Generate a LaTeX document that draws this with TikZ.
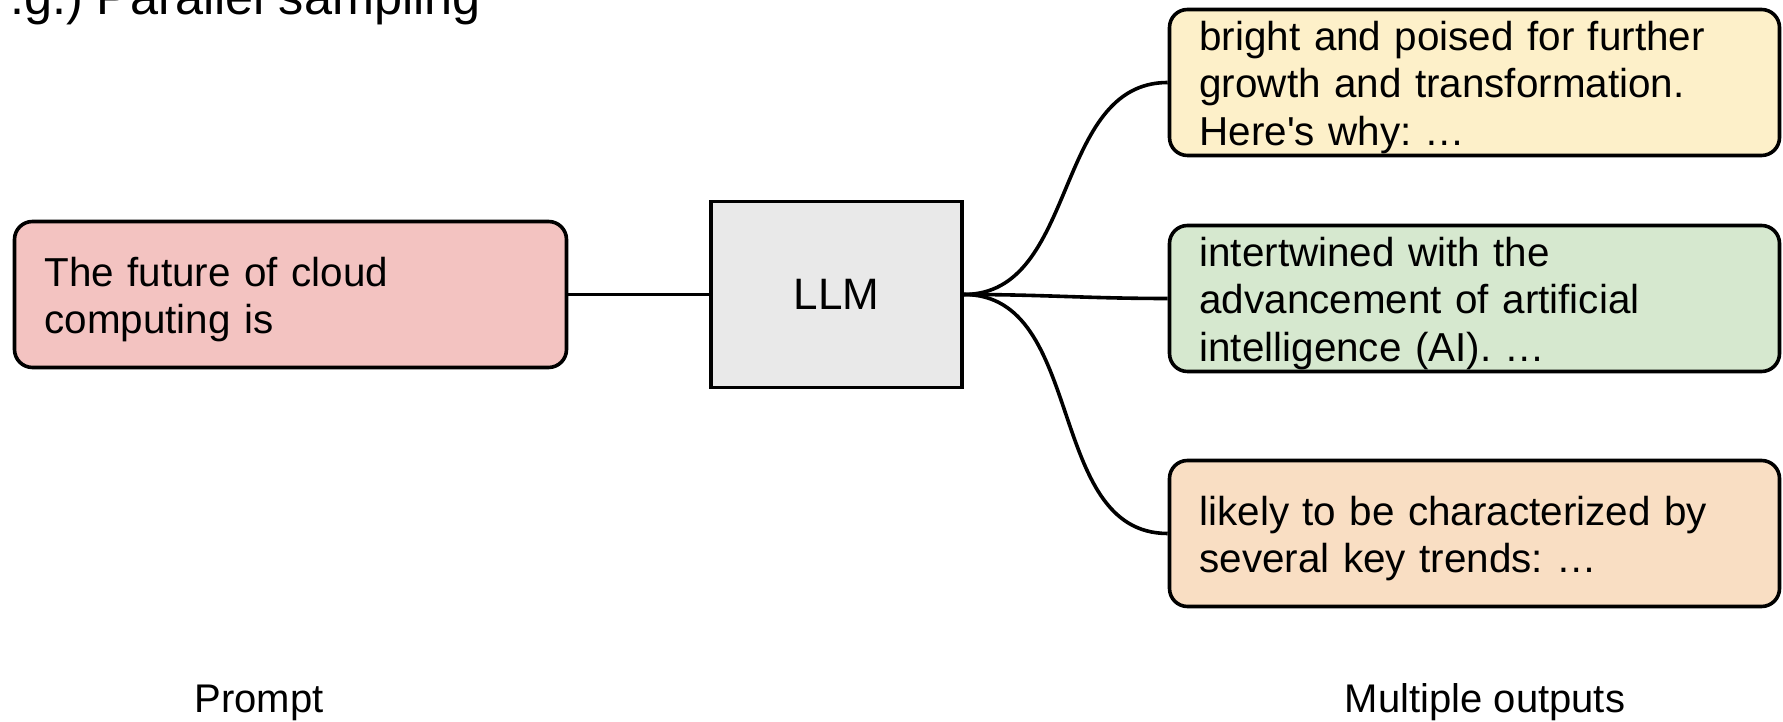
\documentclass[tikz,border=0pt]{standalone}
\usepackage{fontspec}
\setmainfont{Liberation Sans}
\usetikzlibrary{positioning}
\frenchspacing

\definecolor{c-pink}{HTML}{F3C3C1}
\definecolor{c-yel}{HTML}{FDF0C9}
\definecolor{c-grn}{HTML}{D6E8CF}
\definecolor{c-org}{HTML}{F9DEC3}
\definecolor{c-gry}{HTML}{E9E9E9}

\begin{document}
\begin{tikzpicture}[
    x=1pt, y=1pt,
    bx/.style={
        draw,
        line width=1.8pt,
        rounded corners=9pt,
        align=left,
        inner xsep=15pt,
        inner ysep=0pt,
        minimum height=73pt,
        font=\fontsize{20.2}{23.75}\selectfont,
        execute at begin node={\rule{0pt}{19.5pt}},
    },
    pa/.style={bx,fill=c-pink,text width=246pt,},
    ra/.style={bx,text width=275pt,},
    lm/.style={
        draw,
        line width=1.8pt,
        fill=c-gry,
        minimum width=125.5pt,
        minimum height=93pt,
        font=\fontsize{22}{26}\selectfont,
    },
    wire/.style={line width=1.8pt},
    lbl/.style={anchor=base,font=\fontsize{20}{24}\selectfont},
]
    \useasboundingbox (0,0) rectangle (891.5,361);
    \node[anchor=base west,font=\fontsize{25.2}{30}\selectfont] (ttl) at (1.5,353.5)
        {.g.) Parallel sampling};

    \node[pa] (prompt) at (145.25,213.75) {The future of cloud\\computing is};
    \node[lm,right=70.5pt of prompt] (llm) {LLM};

    \node[ra,fill=c-yel] (o1) at (737.25,319.75)
        {bright and poised for further\\growth and transformation.\\Here\textquotesingle s why: …};
    \node[ra,fill=c-grn] (o2) at (737.25,211.75)
        {intertwined with the\\advancement of artificial\\intelligence (AI). …};
    \node[ra,fill=c-org] (o3) at (737.25,94.25)
        {likely to be characterized by\\several key trends: …};

    % ~~~ connectors ~~~~~~~~~~~~
    \draw[wire] (prompt) -- (llm);
    \foreach \o in {o1,o2,o3}
        \draw[wire] (llm.east) to[out=0,in=180] (\o.west);

    % ~~~ captions ~~~~~~~~~
    \node[lbl] (cp) at (129.5,4.5) {Prompt};
    \node[lbl] (co) at (742.5,4.5) {Multiple outputs};
\end{tikzpicture}
\end{document}
